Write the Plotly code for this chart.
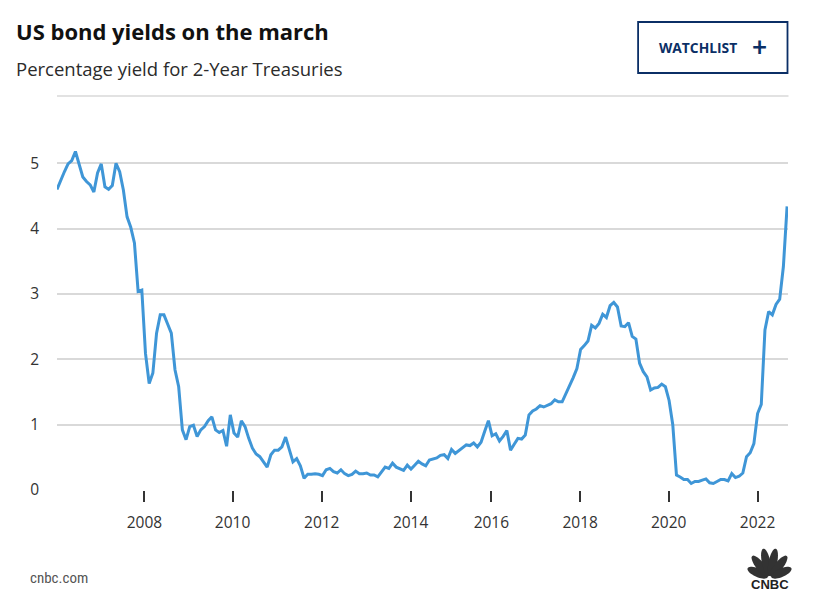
import numpy as np
import plotly.graph_objects as go

# 2-year Treasury yield (%), one observation per point, Jan 2006 .. Sep 2022
yields_2006_2007 = [4.60, 4.75, 4.87, 4.99, 5.04, 5.18, 4.98, 4.79, 4.72, 4.67, 4.56, 4.85,
                    4.99, 4.64, 4.60, 4.66, 5.00, 4.87, 4.59, 4.18, 4.02, 3.78, 3.04, 3.06]
yields_2008_2012 = [2.09, 1.63, 1.79, 2.40, 2.68, 2.68, 2.54, 2.40, 1.84, 1.58, 0.92, 0.77,
                    0.97, 0.99, 0.82, 0.92, 0.97, 1.06, 1.12, 0.92, 0.88, 0.91, 0.67, 1.15,
                    0.87, 0.81, 1.06, 0.97, 0.79, 0.64, 0.55, 0.51, 0.43, 0.35, 0.54, 0.61,
                    0.61, 0.66, 0.81, 0.61, 0.43, 0.48, 0.37, 0.18, 0.24, 0.24, 0.25, 0.24,
                    0.22, 0.31]
yields_2012_2016 = [0.33, 0.28, 0.26, 0.31, 0.25, 0.22, 0.24, 0.29, 0.25, 0.25, 0.26, 0.23,
                    0.23, 0.20, 0.28, 0.35, 0.33, 0.41, 0.35, 0.32, 0.30, 0.38, 0.32, 0.38,
                    0.44, 0.40, 0.37, 0.46, 0.48, 0.49, 0.53, 0.54, 0.48, 0.62, 0.56, 0.60,
                    0.64, 0.69, 0.68, 0.72, 0.66, 0.73, 0.90, 1.06, 0.83, 0.86]
yields_2016_2020 = [0.75, 0.82, 0.91, 0.61, 0.70, 0.79, 0.78, 0.84, 1.15, 1.21, 1.24, 1.29,
                    1.27, 1.29, 1.32, 1.38, 1.35, 1.35, 1.47, 1.60, 1.72, 1.86, 2.15, 2.21,
                    2.28, 2.52, 2.48, 2.55, 2.69, 2.64, 2.82, 2.87, 2.80, 2.51, 2.50, 2.56,
                    2.35, 2.31, 1.94, 1.81, 1.73, 1.53, 1.56, 1.57, 1.62, 1.58, 1.37, 1.00]
yields_2020_2022 = [0.23, 0.20, 0.16, 0.16, 0.10, 0.13, 0.13, 0.15, 0.17, 0.11, 0.10, 0.13,
                    0.16, 0.16, 0.14, 0.25, 0.19, 0.21, 0.26, 0.51, 0.57, 0.71, 1.17, 1.31,
                    2.45, 2.73, 2.68, 2.84, 2.92, 3.42, 4.34]

yields = yields_2006_2007 + yields_2008_2012 + yields_2012_2016 + yields_2016_2020 + yields_2020_2022
obs_index = list(range(len(yields)))

# x-axis year labels and the observation at which each year starts
year_labels = ["2008", "2010", "2012", "2014", "2016", "2018", "2020", "2022"]
year_start_obs = [23.7, 47.6, 71.8, 95.9, 117.8, 141.9, 165.9, 190.0]
y_ticks = [0, 1, 2, 3, 4, 5]

W, H = 815, 605
L, R, T, B = 57, 26.5, 96, 115
PW, PH = W - L - R, H - T - B


def px(x):
    return (x - L) / PW


def py(y):
    return (H - B - y) / PH


LINE = "#3f96d7"
NAVY = "#0b2f66"
TXT = "#2b2b2b"
FONT = "Open Sans, sans-serif"

fig = go.Figure()
fig.add_trace(go.Scatter(x=obs_index, y=yields, mode="lines",
                         line=dict(color=LINE, width=3), hoverinfo="y"))

fig.update_layout(
    width=W, height=H,
    margin=dict(l=L, r=R, t=T, b=B, autoexpand=False),
    paper_bgcolor="white", plot_bgcolor="white",
    showlegend=False,
    font=dict(family=FONT, color=TXT),
    xaxis=dict(range=[0, len(yields) - 1 + 0.25], tickvals=year_start_obs, ticktext=year_labels,
               showgrid=False, zeroline=False, showline=False,
               ticks="outside", ticklen=11, tickwidth=1.5, tickcolor="#333",
               tickfont=dict(size=15.5, color="#333"), ticklabelstandoff=7),
    yaxis=dict(range=[0, (H - B - T) / 65.35], tickvals=y_ticks,
               showgrid=True, gridcolor="#d9d9d9", gridwidth=1.5,
               zeroline=False, showline=False, ticks="",
               tickfont=dict(size=15.5, color="#333"), ticklabelstandoff=17),
)

shapes = [
    dict(type="line", xref="paper", yref="paper", x0=0, x1=px(789), y0=py(96), y1=py(96),
         line=dict(color="#d9d9d9", width=1.5)),
    dict(type="rect", xref="paper", yref="paper", x0=px(638.5), x1=px(788), y0=py(22), y1=py(73),
         line=dict(color=NAVY, width=1.8), fillcolor="rgba(0,0,0,0)"),
]

# CNBC peacock logo (approximation)
cx, cy = 770.0, 578.0
for ang, ln in zip([-66, -38, -12, 12, 38, 66], [22, 26, 28, 28, 26, 22]):
    a = np.deg2rad(ang)
    ux, uy = np.sin(a), -np.cos(a)
    vx, vy = -uy, ux
    t = np.linspace(0, 2 * np.pi, 40)
    c = ln / 2 + 2
    rx, ry = ln / 2, 4.3
    xs = cx + ux * (c + rx * np.cos(t)) + vx * ry * np.sin(t)
    ys = cy + uy * (c + rx * np.cos(t)) + vy * ry * np.sin(t)
    path = "M " + " L ".join(f"{px(x):.5f},{py(y):.5f}" for x, y in zip(xs, ys)) + " Z"
    shapes.append(dict(type="path", xref="paper", yref="paper", path=path,
                       fillcolor="#333", line=dict(width=0)))
fig.update_layout(shapes=shapes)

ann = [
    dict(text="<b>US bond yields on the march</b>", x=px(14), y=py(31), xanchor="left", yanchor="middle",
         font=dict(size=22, color="#111", family=FONT)),
    dict(text="Percentage yield for 2-Year Treasuries", x=px(14), y=py(68), xanchor="left", yanchor="middle",
         font=dict(size=18.5, color=TXT, family=FONT)),
    dict(text="<b>WATCHLIST</b>", x=px(698.5), y=py(47), xanchor="center", yanchor="middle",
         font=dict(size=13.8, color=NAVY, family=FONT)),
    dict(text="<b>+</b>", x=px(760), y=py(46), xanchor="center", yanchor="middle",
         font=dict(size=26, color=NAVY, family="Lato, sans-serif")),
    dict(text="cnbc.com", x=px(28), y=py(578), xanchor="left", yanchor="middle",
         font=dict(size=15, color="#555", family="Liberation Sans Narrow, Roboto Condensed, sans-serif")),
    dict(text="<b>CNBC</b>", x=px(770), y=py(584), xanchor="center", yanchor="middle",
         font=dict(size=13, color="#222", family="Liberation Sans, Arial, sans-serif")),
]
for a in ann:
    a.update(xref="paper", yref="paper", showarrow=False)
fig.update_layout(annotations=ann)

fig.write_html("out.html", config={"displayModeBar": False},
               post_script="document.body.style.margin='0';")
